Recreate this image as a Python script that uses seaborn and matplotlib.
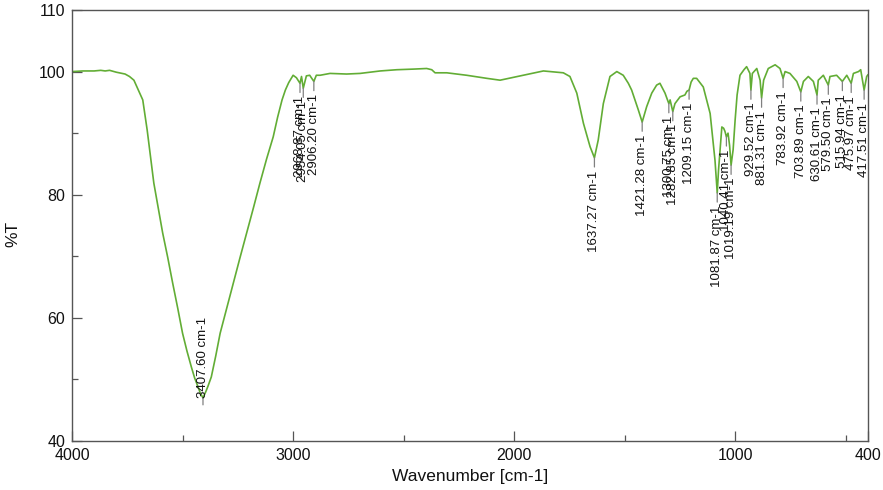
import matplotlib
matplotlib.use("Agg")
import matplotlib.pyplot as plt
import seaborn as sns
import pandas as pd

# ---- spectrum data ----
wavenumber = [4000, 3950, 3900, 3870, 3850, 3830, 3800, 3760, 3740, 3720, 3700, 3680,
              3660, 3630, 3610, 3590, 3567, 3545, 3522, 3500, 3480, 3460, 3445, 3430,
              3420, 3407.6, 3395, 3385, 3370, 3350, 3330, 3300, 3270, 3240, 3210,
              3180, 3150, 3120, 3090, 3070, 3050, 3035, 3020, 3000, 2985, 2968.87, 2962,
              2954.05, 2940, 2925,
              2906.20, 2895, 2878, 2833, 2758, 2697, 2606, 2531, 2456, 2396, 2373, 2358,
              2305, 2215, 2124, 2064, 1972, 1868, 1778, 1748, 1717, 1687, 1657, 1637.27,
              1620, 1597, 1567, 1536, 1507, 1484, 1469, 1439, 1421.28, 1401, 1378, 1356,
              1341, 1318, 1300.75, 1295, 1282.85, 1273, 1250, 1228, 1219, 1209.15, 1200,
              1190, 1175, 1145, 1114, 1092, 1081.87, 1076, 1069, 1061, 1053, 1047,
              1040.41, 1033, 1026, 1019.19, 1010, 1001, 992, 979, 961, 949, 934, 929.52,
              923, 903, 888, 881.31, 872, 851, 820, 798, 783.92, 775, 753, 722, 703.89,
              692, 670, 647, 630.61, 625, 602, 579.50, 572, 542, 515.94, 496, 475.97, 466,
              443, 433, 417.51, 406, 400]
transmittance = [100.0, 100.1, 100.1, 100.2, 100.1, 100.2, 99.9, 99.6, 99.2, 98.6, 97.0, 95.4,
                 90.5, 81.9, 77.8, 73.8, 69.8, 65.7, 61.6, 57.5, 54.6, 52.0, 50.2, 48.8,
                 47.8, 47.0, 48.0, 48.9, 50.4, 53.8, 57.5, 61.6, 65.7, 69.8, 73.8,
                 77.8, 81.9, 85.8, 89.4, 92.6, 95.4, 97.0, 98.2, 99.4, 99.0, 98.1, 99.2,
                 97.3, 99.3, 99.4,
                 98.4, 99.4, 99.4, 99.7, 99.6, 99.7, 100.1, 100.3, 100.4, 100.5, 100.3, 99.8,
                 99.8, 99.4, 98.9, 98.6, 99.3, 100.1, 99.8, 99.2, 96.5, 91.6, 87.8, 86.0,
                 88.9, 94.8, 99.2, 100.0, 99.4, 98.1, 97.0, 93.8, 91.8, 94.3, 96.5, 97.8,
                 98.1, 96.5, 94.8, 95.4, 93.5, 94.8, 95.9, 96.2, 96.8, 97.0, 98.3,
                 98.9, 98.9, 97.5, 93.2, 85.6, 80.3, 84.0, 87.3, 91.0, 90.8, 90.3,
                 89.4, 90.0, 88.0, 84.8, 87.3, 92.1, 96.2, 99.4, 100.3, 100.8, 99.7, 97.0,
                 99.7, 100.5, 98.6, 95.7, 98.6, 100.5, 101.1, 100.5, 98.9, 100.0, 99.7, 98.4, 96.7,
                 98.4, 99.2, 98.4, 96.2, 98.6, 99.4, 97.8, 99.2, 99.4, 98.4, 99.4, 98.1, 99.7,
                 100.0, 100.3, 97.0, 99.2, 99.5]

# ---- labelled peaks ----
peak_wn = [3407.60, 2968.87, 2954.05, 2906.20, 1637.27, 1421.28, 1300.75, 1282.85,
           1209.15, 1081.87, 1040.41, 1019.19, 929.52, 881.31, 783.92, 703.89,
           630.61, 579.50, 515.94, 475.97, 417.51]
peak_T = [47.0, 98.1, 97.3, 98.4, 86.0, 91.8, 94.8, 93.5,
          97.0, 80.3, 89.4, 84.8, 97.0, 95.7, 98.9, 96.7,
          96.2, 97.8, 98.4, 98.1, 97.0]
label_above = [True] + [False] * 20

x_major = [4000, 3000, 2000, 1000, 400]
x_minor = [3500, 2500, 1500, 500]
y_major = [40, 60, 80, 100, 110]
y_minor = [50, 70, 90]

df = pd.DataFrame({"Wavenumber": wavenumber, "T": transmittance})

sns.set_style("ticks")
plt.rcParams["font.family"] = ["Liberation Sans", "DejaVu Sans"]

fig = plt.figure(figsize=(8.83, 4.90), dpi=100)
ax = fig.add_axes([72 / 883, 49 / 490, 796 / 883, 431 / 490])

sns.lineplot(data=df, x="Wavenumber", y="T", sort=False, color="#62ad35",
             linewidth=1.2, ax=ax)

ax.set_xlim(4000, 400)
ax.set_ylim(40, 110)
ax.set_xticks(x_major)
ax.set_xticks(x_minor, minor=True)
ax.set_yticks(y_major)
ax.set_yticks(y_minor, minor=True)
ax.set_xticklabels([str(v) for v in x_major])
ax.set_yticklabels([str(v) for v in y_major])

axis_col = "#555555"
for s in ax.spines.values():
    s.set_visible(True)
    s.set_color(axis_col)
    s.set_linewidth(1.0)
ax.tick_params(which="both", direction="in", color=axis_col, labelcolor="#111111",
               labelsize=11.5, top=False, right=False)
ax.tick_params(which="major", length=7, width=0.9, pad=5)
ax.tick_params(which="minor", length=4.5, width=0.9)

ax.set_xlabel("Wavenumber [cm-1]", fontsize=12.5, color="#111111", labelpad=4)
ax.set_ylabel("%T", fontsize=12.5, color="#111111", labelpad=9)
ax.yaxis.set_label_coords(-0.065, 0.48)

for wn, t, above in zip(peak_wn, peak_T, label_above):
    txt = f"{wn:.2f} cm-1"
    if above:
        ax.annotate("", xy=(wn, t), xytext=(0, -5), textcoords="offset points",
                    arrowprops=dict(arrowstyle="-", color="#808080", lw=0.9,
                                    shrinkA=0, shrinkB=0))
        ax.annotate(txt, xy=(wn, t), xytext=(0, 0), textcoords="offset points",
                    rotation=90, ha="center", va="bottom", fontsize=9.5,
                    color="#111111")
    else:
        ax.annotate(txt, xy=(wn, t), xytext=(0, -9), textcoords="offset points",
                    rotation=90, ha="center", va="top", fontsize=9.5,
                    color="#111111",
                    arrowprops=dict(arrowstyle="-", color="#808080", lw=0.9,
                                    shrinkA=0, shrinkB=0))

fig.savefig("out.png", dpi=100)
